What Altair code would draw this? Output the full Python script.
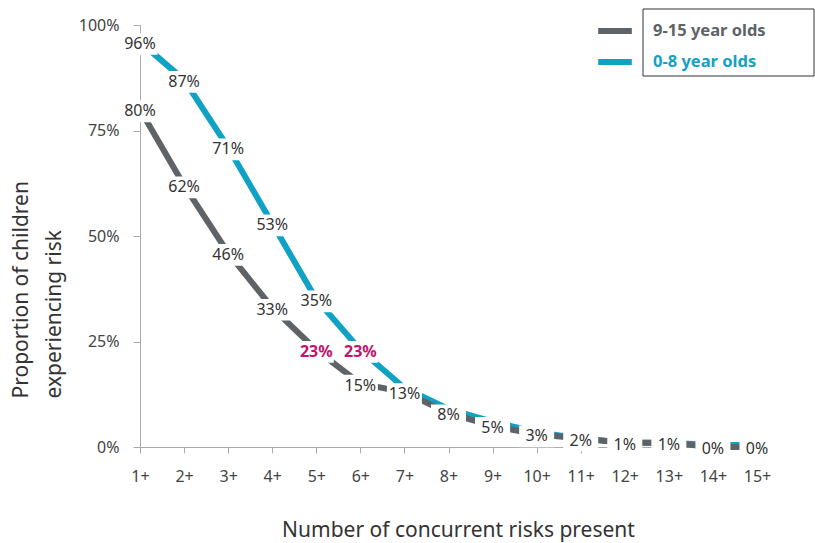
import altair as alt
import pandas as pd

risks = list(range(1, 16))
older_vals = [80, 62, 46, 33, 23, 15, 13, 8, 5, 3, 2, 1, 1, 0, 0]
younger_vals = [96, 87, 71, 53, 35, 23, 14, 9, 6, 3.5, 2, 1, 1, 0.5, 0.5]
younger_labelled = [True] * 6 + [False] * 9
older_labelled = [True] * 15
highlight_older = [5]
highlight_younger = [6]

OLD = "9-15 year olds"
YOUNG = "0-8 year olds"
GRAY = "#5e6367"
BLUE = "#10a2c5"
MAGENTA = "#c4126e"
FONT = "Noto Sans"

rows = []
for x, v, show in zip(risks, older_vals, older_labelled):
    rows.append(dict(x=x, value=v, series=OLD, show=show,
                     label=f"{int(round(v))}%", hi=x in highlight_older))
for x, v, show in zip(risks, younger_vals, younger_labelled):
    rows.append(dict(x=x, value=v, series=YOUNG, show=show,
                     label=f"{int(round(v))}%", hi=x in highlight_younger))
df = pd.DataFrame(rows)

xenc = alt.X("x:Q",
             scale=alt.Scale(domain=[1, 15], nice=False, zero=False),
             axis=alt.Axis(values=risks, labelExpr="datum.value + '+'",
                           title="Number of concurrent risks present",
                           titleFontSize=21, titleFontWeight="normal", titleColor="#333",
                           titleFont=FONT, titleX=318, titleY=89, titleBaseline="alphabetic",
                           titleAlign="center", labelFlush=False,
                           labelFont=FONT, labelFontSize=16, labelColor="#444",
                           labelPadding=15, tickSize=6, tickColor="#aaa",
                           domainColor="#aaa", grid=False))
yenc = alt.Y("value:Q",
             scale=alt.Scale(domain=[0, 100], nice=False),
             axis=alt.Axis(values=[0, 25, 50, 75, 100], labelExpr="datum.value + '%'",
                           title=["Proportion of children", "experiencing risk"],
                           titleFontSize=21, titleFontWeight="normal", titleColor="#333",
                           titleFont=FONT, titleAngle=270, titleAlign="left",
                           titleBaseline="alphabetic", titleX=-113, titleY=373,
                           titleLineHeight=33, labelFlush=False,
                           labelFont=FONT, labelFontSize=16, labelColor="#444",
                           labelPadding=14, tickSize=7, tickColor="#aaa",
                           domainColor="#aaa", grid=False))

color = alt.Color("series:N",
                  scale=alt.Scale(domain=[OLD, YOUNG], range=[GRAY, BLUE]),
                  legend=alt.Legend(orient="none", legendX=458, legendY=-11,
                                    title=None, symbolType="M-1.2,0L1.2,0",
                                    symbolSize=784, symbolStrokeWidth=6,
                                    labelFont=FONT, labelFontSize=16.5, labelFontWeight="bold",
                                    labelOffset=21, rowPadding=2,
                                    labelColor={"expr": f"datum.value == '{OLD}' ? '{GRAY}' : '{BLUE}'"}))

base = alt.Chart(df)

blue_line = base.transform_filter(alt.datum.series == YOUNG).mark_line(
    strokeWidth=6, strokeCap="butt").encode(x=xenc, y=yenc, color=color)
gray_line = base.transform_filter(alt.datum.series == OLD).mark_line(
    strokeWidth=6, strokeCap="butt").encode(x=xenc, y=yenc, color=color)

labelled = base.transform_filter(alt.datum.show)

boxes = labelled.mark_point(
    shape="M-1,-0.62L1,-0.62L1,0.62L-1,0.62Z", size=1225, filled=True,
    fill="white", opacity=1, strokeWidth=0, yOffset=2
).encode(x="x:Q", y="value:Q")

texts_plain = labelled.transform_filter(~alt.datum.hi).mark_text(
    font=FONT, fontSize=16, dy=2, color="#333").encode(
    x="x:Q", y="value:Q", text="label:N")
texts_hi = labelled.transform_filter(alt.datum.hi).mark_text(
    font=FONT, fontSize=16, dy=2, color=MAGENTA, fontWeight="bold").encode(
    x="x:Q", y="value:Q", text="label:N")

legend_box = alt.Chart(pd.DataFrame({"k": [0]})).mark_rect(
    fill=None, stroke="#333", strokeWidth=1
).encode(x=alt.value(503), x2=alt.value(674), y=alt.value(-16), y2=alt.value(51))

chart = alt.layer(blue_line, gray_line, boxes, texts_plain, texts_hi, legend_box).properties(
    width=617, height=422,
    padding={"left": 140, "top": 25, "right": 58, "bottom": 96},
    autosize=alt.AutoSizeParams(type="none"),
).configure(background="white").configure_view(stroke=None)

chart.save("out.html", embed_options={"renderer": "svg", "actions": False})
